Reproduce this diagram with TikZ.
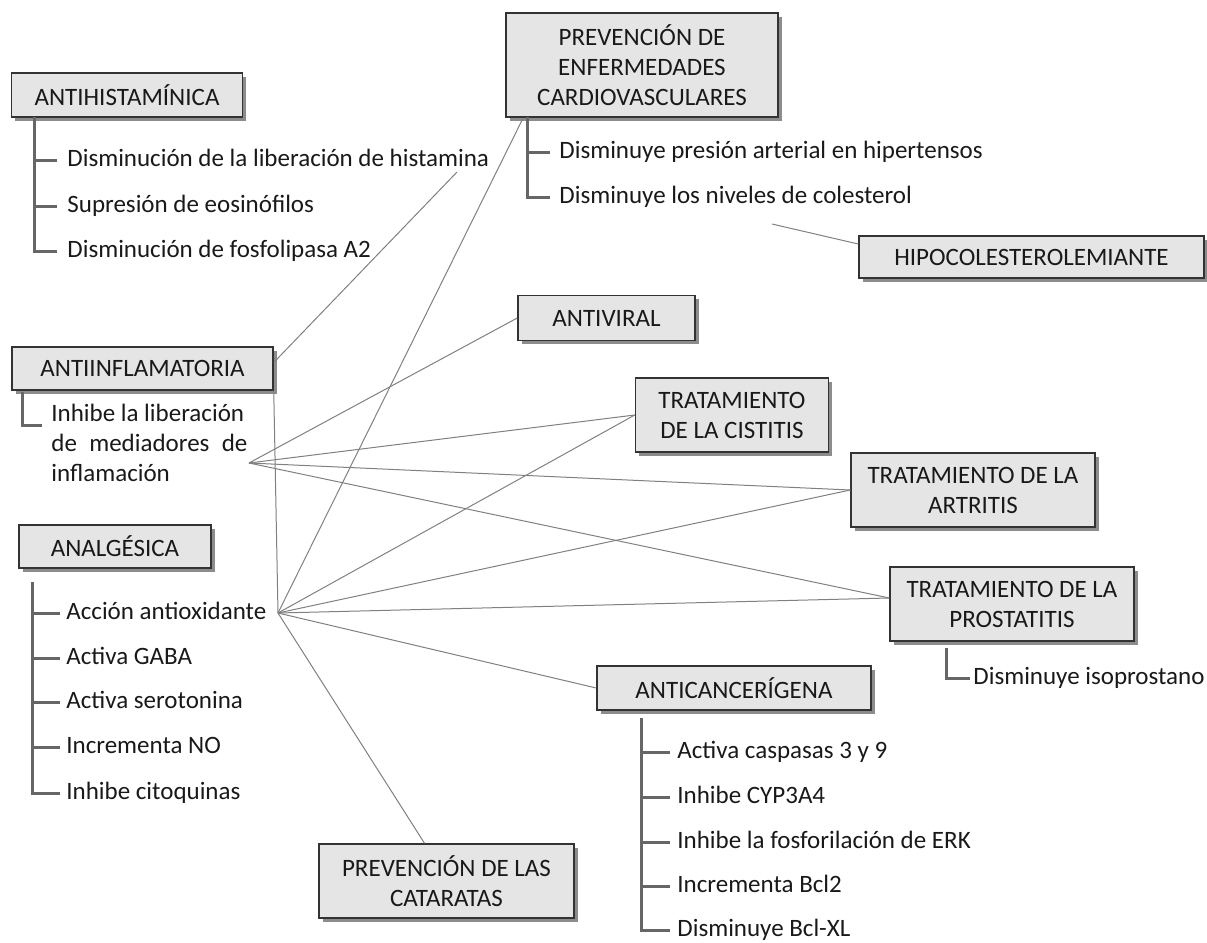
\documentclass[tikz,border=0pt]{standalone}
\usepackage{fontspec}
\setmainfont{Carlito}
\usetikzlibrary{shadows}
\begin{document}
\begin{tikzpicture}[x=0.5pt,y=-0.5pt,
  box/.style={draw=black!80, line width=0.75pt, fill=black!10,
    drop shadow={shadow xshift=1.8pt, shadow yshift=-1.8pt, fill=black!60, opacity=0.75},
    align=center, inner sep=0pt, font=\fontsize{12.5}{15}\selectfont, text=black!90},
  item/.style={anchor=west, inner sep=0pt, font=\fontsize{12.5}{15}\selectfont,
    text height=9pt, text depth=2.5pt, text=black!90},
  tree/.style={draw=black!60, line width=1.5pt},
  link/.style={draw=black!50, line width=0.5pt}]
\path[use as bounding box] (0,0) rectangle (1207,943);

% boxes
\node[box, minimum width=115.5pt, minimum height=22pt] (antihist) at (127,95) {ANTIHISTAMÍNICA};
\node[box, minimum width=136pt, minimum height=52pt] (prevcv) at (642,65) {PREVENCIÓN DE\\ENFERMEDADES\\CARDIOVASCULARES};
\node[box, minimum width=172.5pt, minimum height=21pt] (hipo) at (1031.5,257) {HIPOCOLESTEROLEMIANTE};
\node[box, minimum width=88.5pt, minimum height=22.5pt] (antiviral) at (606.5,318) {ANTIVIRAL};
\node[box, minimum width=130.5pt, minimum height=21.5pt] (antiinfl) at (142.5,368.5) {ANTIINFLAMATORIA};
\node[box, minimum width=96.5pt, minimum height=37pt] (cistitis) at (732,415) {TRATAMIENTO\\DE LA CISTITIS};
\node[box, minimum width=122pt, minimum height=37pt] (artritis) at (973,490) {TRATAMIENTO DE LA\\ARTRITIS};
\node[box, minimum width=122pt, minimum height=37pt] (prost) at (1012,604) {TRATAMIENTO DE LA\\PROSTATITIS};
\node[box, minimum width=96pt, minimum height=21.5pt] (analg) at (115,546.5) {ANALGÉSICA};
\node[box, minimum width=137pt, minimum height=22pt] (anticanc) at (734,688) {ANTICANCERÍGENA};
\node[box, minimum width=127.5pt, minimum height=37pt] (catar) at (446.5,881) {PREVENCIÓN DE LAS\\CATARATAS};

% items
\node[item] (h1) at (67,160) {Disminución de la liberación de histamina};
\node[item] (h2) at (67,206) {Supresión de eosinófilos};
\node[item] (h3) at (67,251) {Disminución de fosfolipasa A2};
\node[item] (c1) at (559,152) {Disminuye presión arterial en hipertensos};
\node[item] (c2) at (559,197) {Disminuye los niveles de colesterol};
\node[anchor=north west, inner sep=0pt, align=left, font=\fontsize{12.5}{15}\selectfont, text=black!90] (infl) at (51,404)
  {Inhibe la liberación\\\makebox[98pt][s]{de mediadores de}\\inflamación};
\node[item] (a1) at (66,613) {Acción antioxidante};
\node[item] (a2) at (66,658) {Activa GABA};
\node[item] (a3) at (66,702) {Activa serotonina};
\node[item] (a4) at (66,747) {Incrementa NO};
\node[item] (a5) at (66,793) {Inhibe citoquinas};
\node[item] (k1) at (677,752) {Activa caspasas 3 y 9};
\node[item] (k2) at (677,797) {Inhibe CYP3A4};
\node[item] (k3) at (677,842) {Inhibe la fosforilación de ERK};
\node[item] (k4) at (677,886) {Incrementa Bcl2};
\node[item] (k5) at (677,930) {Disminuye Bcl-XL};
\node[item] (p1) at (973,678) {Disminuye isoprostano};

% tree tops
\coordinate (t1) at (34,117);
\coordinate (t2) at (527,117);
\coordinate (t3) at (22,392);
\coordinate (t3e) at (41.5,425);
\coordinate (t4) at (32,582);
\coordinate (t5) at (641,718);
\coordinate (t6) at (946,648);

\draw[tree] (t1) |- ([xshift=-5pt]h3.west);
\draw[tree] (t1 |- h1.west) -- ([xshift=-5pt]h1.west);
\draw[tree] (t1 |- h2.west) -- ([xshift=-5pt]h2.west);

\draw[tree] (t2) |- ([xshift=-4.5pt]c2.west);
\draw[tree] (t2 |- c1.west) -- ([xshift=-4.5pt]c1.west);

\draw[tree] (t3) |- (t3e);

\draw[tree] (t4) |- ([xshift=-3pt]a5.west);
\foreach \n in {a1,a2,a3,a4} \draw[tree] (t4 |- \n.west) -- ([xshift=-3pt]\n.west);

\draw[tree] (t5) |- ([xshift=-3.5pt]k5.west);
\foreach \n in {k1,k2,k3,k4} \draw[tree] (t5 |- \n.west) -- ([xshift=-3.5pt]\n.west);

\draw[tree] (t6) |- ([xshift=-1.5pt]p1.west);

% hubs and free ends
\coordinate (hubA) at (249,463);
\coordinate (hubB) at (278,613);
\coordinate (hist) at (457,172);
\coordinate (chol) at (772,224);

% connectors
\draw[link] ([yshift=3pt]antiinfl.east) -- (hist);
\draw[link] (antiinfl.south east) -- (hubB);
\draw[link] ([yshift=6.5pt]hipo.west) -- (chol);

\draw[link] (hubA) -- (antiviral.west);
\draw[link] (hubA) -- (cistitis.west);
\draw[link] (hubA) -- (artritis.west);
\draw[link] (hubA) -- ([yshift=3pt]prost.west);

\draw[link] (hubB) -- ([xshift=9pt]prevcv.south west);
\draw[link] (hubB) -- (cistitis.west);
\draw[link] (hubB) -- (artritis.west);
\draw[link] (hubB) -- ([yshift=3pt]prost.west);
\draw[link] (hubB) -- (anticanc.west);
\draw[link] (hubB) -- ([xshift=-11pt]catar.north);
\end{tikzpicture}
\end{document}
